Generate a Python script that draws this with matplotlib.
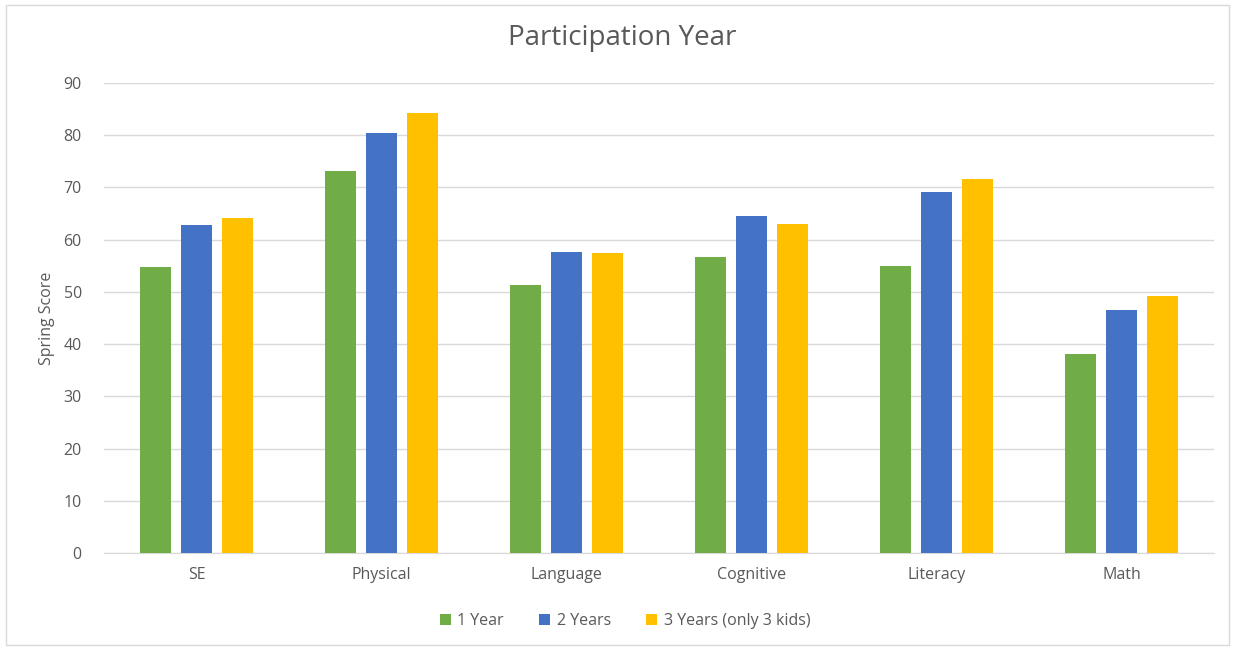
import numpy as np
import matplotlib.pyplot as plt
from matplotlib.patches import Rectangle

plt.rcParams['font.family'] = ['Open Sans', 'DejaVu Sans']

categories = ['SE', 'Physical', 'Language', 'Cognitive', 'Literacy', 'Math']
year1 = [54.8, 73.1, 51.3, 56.6, 55.0, 38.2]
year2 = [62.9, 80.4, 57.6, 64.5, 69.2, 46.5]
year3 = [64.2, 84.2, 57.4, 63.0, 71.7, 49.2]
series_names = ['1 Year', '2 Years', '3 Years (only 3 kids)']
colors = ['#70AD47', '#4472C4', '#FFC000']

text_color = '#595959'
grid_color = '#D9D9D9'

fig = plt.figure(figsize=(12.35, 6.49), dpi=100)
fig.patches.append(Rectangle((6 / 1235, 4 / 649), 1223 / 1235, 640 / 649,
                             transform=fig.transFigure, fill=False,
                             edgecolor='#D9D9D9', linewidth=1))

ax = fig.add_axes([104 / 1235, 96 / 649, 1110 / 1235, 470 / 649])

x = np.arange(len(categories))
width = 0.168
step = 0.222
for i, (vals, name, c) in enumerate(zip([year1, year2, year3], series_names, colors)):
    ax.bar(x + (i - 1) * step, vals, width, color=c, label=name, zorder=3)

ax.set_xlim(-0.5, len(categories) - 0.5)
ax.set_ylim(0, 90)
ax.set_yticks(range(0, 91, 10))
ax.set_xticks(x)
ax.set_xticklabels(categories)
ax.grid(axis='y', color=grid_color, linewidth=1, zorder=0)
ax.tick_params(axis='both', length=0, labelsize=11.5, colors=text_color)
ax.tick_params(axis='y', pad=16)
ax.tick_params(axis='x', pad=10)
for side in ['top', 'right', 'left']:
    ax.spines[side].set_visible(False)
ax.spines['bottom'].set_color(grid_color)

ax.set_ylabel('Spring Score', fontsize=11.5, color=text_color, labelpad=6)
fig.text(622 / 1235, 1 - 38 / 649, 'Participation Year', ha='center', va='center',
         fontsize=20, color=text_color)

leg = ax.legend(loc='center', bbox_to_anchor=((625 - 104) / 1110, -0.145), ncol=3,
                frameon=False, handlelength=0.7, handleheight=0.7, handletextpad=0.4,
                columnspacing=2.2, fontsize=11.5)
for t in leg.get_texts():
    t.set_color(text_color)

fig.savefig('out.png', dpi=100)
